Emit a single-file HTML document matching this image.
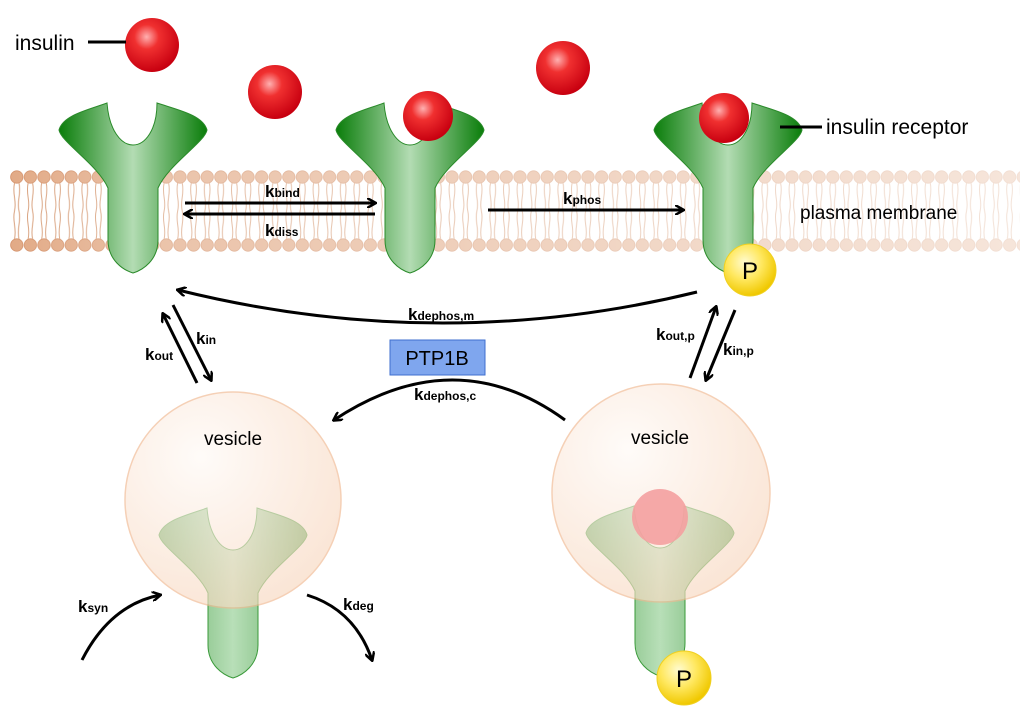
<!DOCTYPE html>
<html><head><meta charset="utf-8"><style>
body{margin:0;background:#fff}
svg text{font-family:"Liberation Sans",sans-serif}
</style></head><body>
<svg width="1024" height="717" viewBox="0 0 1024 717" xmlns="http://www.w3.org/2000/svg">
<defs>
<linearGradient id="rg" x1="0" x2="1" y1="0" y2="0">
<stop offset="0" stop-color="#0a7d0a"/><stop offset="0.5" stop-color="#b3dcb3"/><stop offset="1" stop-color="#0a7d0a"/>
</linearGradient>
<linearGradient id="rg2" x1="0" x2="1" y1="0" y2="0">
<stop offset="0" stop-color="#5eaa5e"/><stop offset="0.5" stop-color="#b8dfb8"/><stop offset="1" stop-color="#5eaa5e"/>
</linearGradient>
<radialGradient id="ball" cx="0.4" cy="0.35" r="0.65">
<stop offset="0" stop-color="#ffb0b0"/><stop offset="0.35" stop-color="#f03030"/><stop offset="1" stop-color="#c80010"/>
</radialGradient>
<radialGradient id="pb" cx="0.4" cy="0.35" r="0.65">
<stop offset="0" stop-color="#fffbd0"/><stop offset="0.5" stop-color="#ffe860"/><stop offset="1" stop-color="#f0c800"/>
</radialGradient>
<radialGradient id="ves" cx="0.35" cy="0.3" r="0.75">
<stop offset="0" stop-color="#fffaf6"/><stop offset="1" stop-color="#f8d8c0"/>
</radialGradient>
<linearGradient id="fade" x1="0" x2="1">
<stop offset="0" stop-color="#fff" stop-opacity="0"/><stop offset="0.15" stop-color="#fff" stop-opacity="0.3"/><stop offset="1" stop-color="#fff" stop-opacity="0.7"/>
</linearGradient>
<pattern id="mem" x="10" y="170" width="13.6" height="82" patternUnits="userSpaceOnUse">
<circle cx="6.8" cy="7" r="6.2" fill="#e2aa86" stroke="#d39068" stroke-width="0.8"/>
<circle cx="6.8" cy="75" r="6.2" fill="#e2aa86" stroke="#d39068" stroke-width="0.8"/>
<path d="M4.5,13 C2,25 7,30 4.5,41 C2,52 7,57 4.5,69 M9,13 C11.5,25 6.5,30 9,41 C11.5,52 6.5,57 9,69" fill="none" stroke="#d8a07c" stroke-width="1"/>
</pattern>
<path id="rec" d="M-26,3 C-45,10 -70,15 -74,30 C-72,42 -35,65 -25,88 L-25,140 C-25,160 -10,170 0,173 C10,170 25,160 25,140 L25,88 C35,65 72,42 74,30 C70,15 45,10 24,3 C24,30 12,45 0,45 C-12,45 -24,30 -26,3 Z"/>
<marker id="ah" markerWidth="10" markerHeight="10" refX="8" refY="5" orient="auto" markerUnits="userSpaceOnUse">
<path d="M0,0 L9,5 L0,10" fill="none" stroke="#000" stroke-width="2.5"/>
</marker>
</defs>

<rect x="10" y="170" width="1010" height="82" fill="url(#mem)"/>
<rect x="10" y="170" width="1010" height="82" fill="url(#fade)"/>

<use href="#rec" transform="translate(133,100)" fill="url(#rg)" stroke="#2a8a2a" stroke-width="1"/>
<use href="#rec" transform="translate(410,100)" fill="url(#rg)" stroke="#2a8a2a" stroke-width="1"/>
<use href="#rec" transform="translate(728,100)" fill="url(#rg)" stroke="#2a8a2a" stroke-width="1"/>

<circle cx="152" cy="45" r="27" fill="url(#ball)"/>
<circle cx="275" cy="92" r="27" fill="url(#ball)"/>
<circle cx="563" cy="68" r="27" fill="url(#ball)"/>
<circle cx="428" cy="116" r="25" fill="url(#ball)"/>
<circle cx="724" cy="118" r="25" fill="url(#ball)"/>
<circle cx="750" cy="270" r="26" fill="url(#pb)" stroke="#f0d020"/>
<text x="750" y="279" font-size="24" text-anchor="middle">P</text>

<line x1="88" y1="42" x2="126" y2="42" stroke="#000" stroke-width="3"/>
<text x="15" y="50" font-size="21">insulin</text>
<line x1="780" y1="127" x2="822" y2="127" stroke="#000" stroke-width="3"/>
<text x="826" y="134" font-size="21">insulin receptor</text>
<text x="800" y="219" font-size="19">plasma membrane</text>

<g stroke="#000" stroke-width="3" fill="none">
<line x1="185" y1="203" x2="375" y2="203" marker-end="url(#ah)"/>
<line x1="375" y1="214" x2="185" y2="214" marker-end="url(#ah)"/>
<line x1="488" y1="210" x2="683" y2="210" marker-end="url(#ah)"/>
<path d="M697,292 Q440,355 178,290" marker-end="url(#ah)"/>
<line x1="197" y1="383" x2="163" y2="314" marker-end="url(#ah)"/>
<line x1="173" y1="305" x2="211" y2="380" marker-end="url(#ah)"/>
<line x1="690" y1="378" x2="716" y2="307" marker-end="url(#ah)"/>
<line x1="735" y1="310" x2="706" y2="380" marker-end="url(#ah)"/>
<path d="M565,420 Q455,340 334,420" marker-end="url(#ah)"/>
<path d="M82,660 Q110,605 160,595" marker-end="url(#ah)"/>
<path d="M307,595 Q355,610 372,660" marker-end="url(#ah)"/>
</g>

<g font-weight="bold" font-size="17">
<text x="265" y="197">k<tspan font-size="12">bind</tspan></text>
<text x="265" y="236">k<tspan font-size="12">diss</tspan></text>
<text x="563" y="204">k<tspan font-size="12">phos</tspan></text>
<text x="408" y="320">k<tspan font-size="12">dephos,m</tspan></text>
<text x="414" y="400">k<tspan font-size="12">dephos,c</tspan></text>
<text x="196" y="344">k<tspan font-size="12">in</tspan></text>
<text x="145" y="360">k<tspan font-size="12">out</tspan></text>
<text x="656" y="340">k<tspan font-size="12">out,p</tspan></text>
<text x="723" y="355">k<tspan font-size="12">in,p</tspan></text>
<text x="78" y="612">k<tspan font-size="12">syn</tspan></text>
<text x="343" y="610">k<tspan font-size="12">deg</tspan></text>
</g>

<rect x="390" y="340" width="95" height="35" fill="#7fa6ee" stroke="#3f6fcf"/>
<text x="437" y="365" font-size="20" text-anchor="middle">PTP1B</text>

<use href="#rec" transform="translate(233,505)" fill="url(#rg2)" stroke="#3a9a3a" stroke-width="1"/>
<circle cx="233" cy="500" r="108" fill="url(#ves)" stroke="#f0b890" stroke-width="1.5" opacity="0.65"/>
<text x="233" y="445" font-size="19" text-anchor="middle">vesicle</text>

<use href="#rec" transform="translate(660,503)" fill="url(#rg2)" stroke="#3a9a3a" stroke-width="1"/>
<circle cx="661" cy="493" r="109" fill="url(#ves)" stroke="#f0b890" stroke-width="1.5" opacity="0.65"/>
<circle cx="660" cy="517" r="28" fill="#f4a0a0" opacity="0.9"/>
<text x="660" y="444" font-size="19" text-anchor="middle">vesicle</text>
<circle cx="684" cy="678" r="27" fill="url(#pb)" stroke="#f0d020"/>
<text x="684" y="687" font-size="24" text-anchor="middle">P</text>
</svg>
</body></html>
